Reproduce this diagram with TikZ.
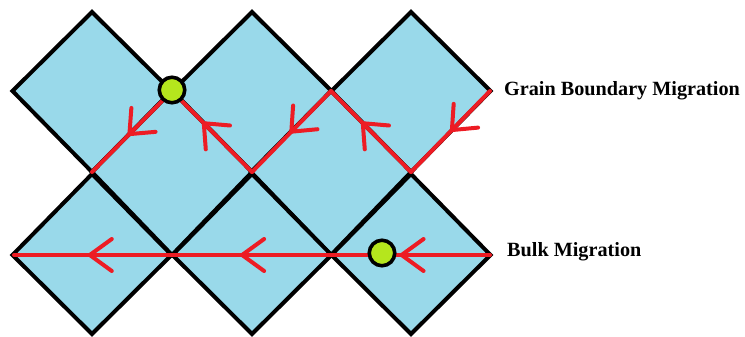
\documentclass[tikz,border=0pt]{standalone}
\usepackage{fontspec}
\setmainfont{Liberation Serif}
\usetikzlibrary{decorations.markings,arrows.meta}
\definecolor{grainfill}{RGB}{153,217,234}
\definecolor{pathred}{RGB}{237,28,36}
\definecolor{atomgreen}{RGB}{181,230,29}
\tikzset{
  grainbox/.style={fill=grainfill,draw=black,line width=4pt,line join=miter},
  migpath/.style={color=pathred,line width=4pt,line cap=round,line join=round},
  barbat/.style={postaction={decorate},decoration={markings,
      mark=at position #1 with {\arrow{Straight Barb[length=20pt,width=34pt,round]}}}},
  atom/.style={circle,fill=atomgreen,draw=black,line width=3.6pt,minimum size=25.5pt,inner sep=0pt},
  lbl/.style={anchor=base west,font=\bfseries\fontsize{20.2}{22}\selectfont,inner sep=0pt}
}
\begin{document}
\begin{tikzpicture}[x=1pt,y=-1pt]
\useasboundingbox (0,0) rectangle (745,337);
% lattice points
\coordinate (a1) at (13,91);   \coordinate (a2) at (172,91);  \coordinate (a3) at (331,91);  \coordinate (a4) at (490,91);
\coordinate (b1) at (92,172);  \coordinate (b2) at (252,172); \coordinate (b3) at (411,172);
\coordinate (c1) at (14,255);  \coordinate (c2) at (172,255); \coordinate (c3) at (331,255); \coordinate (c4) at (490,255);
% top row grains
\foreach \cx in {92,252,411}{
  \draw[grainbox] (\cx-79.5,91) -- (\cx,12) -- (\cx+79.5,91) -- (\cx,172) -- cycle;
}
% middle row grains
\foreach \cx in {172,331}{
  \draw[grainbox] (\cx-80,172) -- (\cx,91) -- (\cx+80,172) -- (\cx,255) -- cycle;
}
% bottom row grains
\foreach \cx in {92,252,411}{
  \draw[grainbox] (\cx-79.5,255) -- (\cx,174) -- (\cx+79.5,255) -- (\cx,334) -- cycle;
}
% grain boundary migration path
\draw[migpath,barbat=0.5]  (a4) -- (b3);
\draw[migpath,barbat=0.62] (b3) -- (a3);
\draw[migpath,barbat=0.52] (a3) -- (b2);
\draw[migpath,barbat=0.62] (b2) -- (a2);
\draw[migpath,barbat=0.55] (a2) -- (b1);
% bulk migration path
\draw[migpath,postaction={decorate},decoration={markings,
   mark=at position 0.19 with {\arrow{Straight Barb[length=22pt,width=32pt,round]}},
   mark=at position 0.525 with {\arrow{Straight Barb[length=22pt,width=32pt,round]}},
   mark=at position 0.845 with {\arrow{Straight Barb[length=22pt,width=32pt,round]}}}]
   (c4) -- (c1);
% atoms
\node[atom] (g1) at (172,90) {};
\node[atom] (g2) at (382,253) {};
% labels
\node[lbl] (gbm) at (504,95.5) {Grain Boundary Migration};
\node[lbl] (bm) at (507,256.5) {Bulk Migration};
\end{tikzpicture}
\end{document}
